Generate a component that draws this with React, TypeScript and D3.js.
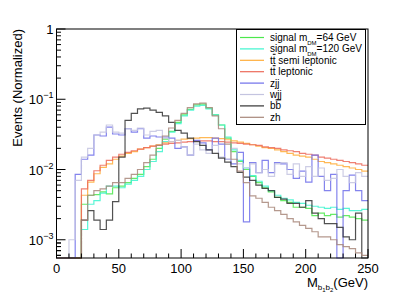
import React, { useEffect, useRef } from "react";
import * as d3 from "d3";

// 5 GeV bins, 0 -> 250
const binEdges = d3.range(0, 255, 5);

const sig64 = [0, 0, 0, 0, 3.2e-3, 4.3e-3, 4.4e-3, 4.8e-3, 4.5e-3, 5.5e-3, 5.8e-3, 6.5e-3, 7.5e-3, 8.5e-3, 1.1e-2, 1.4e-2, 2.0e-2, 2.7e-2, 3.5e-2, 4.7e-2, 6.0e-2, 7.2e-2, 8.3e-2, 8.5e-2, 7.5e-2, 6.0e-2, 4.3e-2, 2.8e-2, 1.8e-2, 1.3e-2, 1.0e-2, 8e-3, 6.5e-3, 5.5e-3, 4.8e-3, 4.0e-3, 3.6e-3, 3.4e-3, 2.9e-3, 2.9e-3, 2.8e-3, 2.2e-3, 2.4e-3, 2.2e-3, 2.3e-3, 2.1e-3, 2.2e-3, 2.1e-3, 2.0e-3, 1.9e-3];
const sig120 = [0, 0, 0, 0, 1.4e-3, 3.2e-3, 3.6e-3, 4.6e-3, 5.8e-3, 5.8e-3, 5.5e-3, 6.2e-3, 7.0e-3, 8.0e-3, 1.0e-2, 1.3e-2, 1.8e-2, 2.5e-2, 3.4e-2, 4.5e-2, 5.8e-2, 7.0e-2, 8.0e-2, 8.2e-2, 7.3e-2, 6.0e-2, 4.3e-2, 2.9e-2, 1.9e-2, 1.35e-2, 1.05e-2, 8.2e-3, 6.8e-3, 5.8e-3, 5.0e-3, 4.3e-3, 3.9e-3, 3.7e-3, 3.4e-3, 3.3e-3, 3.1e-3, 3.0e-3, 2.9e-3, 2.8e-3, 2.9e-3, 2.7e-3, 2.8e-3, 2.6e-3, 2.6e-3, 2.7e-3];
const ttSemi = [0, 0, 0, 0, 4.3e-3, 6.6e-3, 8.7e-3, 1.07e-2, 1.2e-2, 1.4e-2, 1.55e-2, 1.7e-2, 1.8e-2, 1.95e-2, 2.05e-2, 2.15e-2, 2.25e-2, 2.4e-2, 2.5e-2, 2.6e-2, 2.7e-2, 2.75e-2, 2.8e-2, 2.85e-2, 2.85e-2, 2.8e-2, 2.75e-2, 2.65e-2, 2.55e-2, 2.45e-2, 2.35e-2, 2.25e-2, 2.15e-2, 2.05e-2, 2.0e-2, 1.9e-2, 1.8e-2, 1.7e-2, 1.6e-2, 1.55e-2, 1.5e-2, 1.4e-2, 1.3e-2, 1.25e-2, 1.2e-2, 1.15e-2, 1.1e-2, 1.05e-2, 1.0e-2, 9.5e-3];
const ttLep = [0, 0, 0, 0, 5.3e-3, 7e-3, 9.6e-3, 1.15e-2, 1.35e-2, 1.5e-2, 1.65e-2, 1.75e-2, 1.85e-2, 1.95e-2, 2.05e-2, 2.15e-2, 2.2e-2, 2.3e-2, 2.35e-2, 2.4e-2, 2.45e-2, 2.5e-2, 2.55e-2, 2.55e-2, 2.55e-2, 2.5e-2, 2.5e-2, 2.45e-2, 2.4e-2, 2.35e-2, 2.3e-2, 2.25e-2, 2.2e-2, 2.1e-2, 2.05e-2, 2.0e-2, 1.9e-2, 1.85e-2, 1.8e-2, 1.7e-2, 1.65e-2, 1.6e-2, 1.5e-2, 1.45e-2, 1.4e-2, 1.35e-2, 1.3e-2, 1.25e-2, 1.2e-2, 1.15e-2];
const zjj = [0, 0, 0, 8.5e-3, 1.4e-2, 1.6e-2, 3.1e-2, 3e-2, 4.0e-2, 3.2e-2, 3.1e-2, 3.8e-2, 3.4e-2, 3.8e-2, 2.8e-2, 3e-2, 2.9e-2, 2.9e-2, 2.8e-2, 2.0e-2, 2.1e-2, 1.6e-2, 2.6e-2, 2.4e-2, 1.9e-2, 2.8e-2, 2.3e-2, 1.4e-2, 1.2e-2, 1.75e-2, 1.8e-3, 1.25e-2, 9e-3, 1.35e-2, 9e-3, 1.25e-2, 1.2e-2, 1.0e-2, 7.5e-3, 9.5e-3, 6.6e-3, 1.6e-2, 8e-3, 5e-3, 8.5e-3, 0, 5e-3, 8.3e-3, 5e-3, 3.6e-3];
const wjj = [0, 0, 1e-3, 7e-3, 1.5e-2, 2e-2, 3.1e-2, 3.4e-2, 4.3e-2, 3.4e-2, 3.3e-2, 3.8e-2, 3.6e-2, 3.9e-2, 3.1e-2, 3.5e-2, 3.6e-2, 2.8e-2, 2.5e-2, 2.6e-2, 2.1e-2, 1.6e-2, 2.3e-2, 1.9e-2, 1.7e-2, 2.2e-2, 1.5e-2, 1.4e-2, 2.0e-2, 1.2e-2, 1.05e-2, 1.2e-2, 9e-3, 1.0e-2, 8e-3, 1.2e-2, 1.25e-2, 8.5e-3, 1.2e-2, 8e-3, 1.1e-2, 8e-3, 1.05e-2, 7e-3, 7.5e-3, 1.0e-2, 8e-3, 6.5e-3, 9e-3, 8e-3];
const bbbar = [0, 0, 0, 0, 1.9e-3, 2.6e-3, 1.9e-3, 1.4e-3, 1.9e-3, 3.5e-3, 1.5e-2, 5.0e-2, 6.3e-2, 7.3e-2, 7.5e-2, 7.0e-2, 6.5e-2, 5.8e-2, 4.7e-2, 3.6e-2, 3.3e-2, 2.8e-2, 2.5e-2, 2.2e-2, 1.9e-2, 1.7e-2, 1.45e-2, 1.27e-2, 1.1e-2, 9.1e-3, 7.8e-3, 7.0e-3, 6.0e-3, 5.4e-3, 5.0e-3, 4.0e-3, 3.8e-3, 3.3e-3, 3.3e-3, 2.9e-3, 3.6e-3, 2.4e-3, 2.0e-3, 1.7e-3, 1.7e-3, 1.5e-3, 1.1e-3, 1.0e-3, 2.4e-3, 0];
const zh = [0, 0, 0, 0, 1.9e-3, 4.3e-3, 5.0e-3, 5.3e-3, 5.8e-3, 6.5e-3, 6.5e-3, 7.5e-3, 8.5e-3, 1.0e-2, 1.25e-2, 1.6e-2, 2.2e-2, 3.0e-2, 3.9e-2, 5.0e-2, 6.3e-2, 7.6e-2, 8.6e-2, 8.8e-2, 7.6e-2, 5.8e-2, 3.8e-2, 2.3e-2, 1.4e-2, 9.5e-3, 6.5e-3, 4.2e-3, 3.9e-3, 3.4e-3, 2.9e-3, 2.6e-3, 2.3e-3, 2.0e-3, 1.8e-3, 1.6e-3, 1.45e-3, 1.3e-3, 1.1e-3, 1.1e-3, 1.0e-3, 8.5e-4, 8.0e-4, 7.5e-4, 6.5e-4, 6.0e-4];

const series = [
  { name: "sig64", values: sig64, color: "#4ce84c" },
  { name: "sig120", values: sig120, color: "#3cf5cf" },
  { name: "ttSemi", values: ttSemi, color: "#ffad3a" },
  { name: "ttLep", values: ttLep, color: "#ec6a5a" },
  { name: "zjj", values: zjj, color: "#6e6eea" },
  { name: "wjj", values: wjj, color: "#c4c4e0" },
  { name: "bb", values: bbbar, color: "#333333" },
  { name: "zh", values: zh, color: "#a8877a" },
];

// legend text pieces; "bar" is a letter drawn with an overline
const legendLabels = [
  { pre: "signal m", sub: "DM", post: "=64 GeV" },
  { pre: "signal m", sub: "DM", post: "=120 GeV" },
  { pre: "t", bar: "t", post: " semi leptonic" },
  { pre: "t", bar: "t", post: " leptonic" },
  { pre: "zjj" },
  { pre: "wjj" },
  { pre: "b", bar: "b", post: "" },
  { pre: "zh" },
];

const xTicks = [0, 50, 100, 150, 200, 250];
const yTickExps = [0, -1, -2, -3];

const App = () => {
  const chartRef = useRef<SVGSVGElement | null>(null);

  useEffect(() => {
    const width = 409;
    const height = 300;
    const margin = { top: 29, right: 41, bottom: 42, left: 56.5 };
    const font = "'Liberation Sans', Arial, sans-serif";
    const yMin = 5.5e-4;

    const svg = d3.select(chartRef.current);
    svg.selectAll("*").remove();

    const x = d3
      .scaleLinear()
      .domain([0, 250])
      .range([margin.left, width - margin.right]);
    const y = d3
      .scaleLog()
      .domain([yMin, 1])
      .range([height - margin.bottom, margin.top]);
    const yBottom = height - margin.bottom;

    svg.append("rect").attr("width", width).attr("height", height).attr("fill", "white");

    // Histograms, drawn as steps
    const plot = svg.append("g");
    series.forEach((s) => {
      const path = d3.path();
      s.values.forEach((v, i) => {
        const yy = v > yMin ? y(Math.min(v, 1)) : yBottom;
        if (i === 0) path.moveTo(x(binEdges[0]), yy);
        else path.lineTo(x(binEdges[i]), yy);
        path.lineTo(x(binEdges[i + 1]), yy);
      });
      plot
        .append("path")
        .attr("d", path.toString())
        .attr("fill", "none")
        .attr("stroke", s.color)
        .attr("stroke-width", 1.2)
        .attr("stroke-opacity", 0.85);
    });

    // Frame
    svg
      .append("rect")
      .attr("x", x(0))
      .attr("y", margin.top)
      .attr("width", x(250) - x(0))
      .attr("height", yBottom - margin.top)
      .attr("fill", "none")
      .attr("stroke", "black")
      .attr("stroke-width", 1);

    // X ticks
    const axis = svg.append("g").attr("stroke", "black").attr("stroke-width", 1);
    d3.range(0, 251, 10).forEach((t) => {
      const major = t % 50 === 0;
      axis
        .append("line")
        .attr("x1", x(t))
        .attr("x2", x(t))
        .attr("y1", yBottom)
        .attr("y2", yBottom - (major ? 9 : 4.5));
    });
    xTicks.forEach((t) => {
      svg
        .append("text")
        .attr("x", x(t))
        .attr("y", yBottom + 15)
        .attr("text-anchor", "middle")
        .style("font-family", font)
        .style("font-size", "13px")
        .text(t);
    });

    // Y ticks (log)
    yTickExps.forEach((e) => {
      const base = Math.pow(10, e);
      axis
        .append("line")
        .attr("x1", x(0))
        .attr("x2", x(0) + 9)
        .attr("y1", y(base))
        .attr("y2", y(base));
      d3.range(2, 10).forEach((m) => {
        const v = (base / 10) * m;
        if (v < yMin) return;
        axis
          .append("line")
          .attr("x1", x(0))
          .attr("x2", x(0) + 4.5)
          .attr("y1", y(v))
          .attr("y2", y(v));
      });
      const label = svg
        .append("text")
        .attr("x", x(0) - 3)
        .attr("y", y(base) + 5)
        .attr("text-anchor", "end")
        .style("font-family", font)
        .style("font-size", "13px");
      if (e === 0) {
        label.text("1");
      } else {
        label.append("tspan").text("10");
        label
          .append("tspan")
          .attr("dy", -6)
          .style("font-size", "9px")
          .text(`\u2212${-e}`);
      }
    });
    d3.range(6, 10).forEach((m) => {
      axis
        .append("line")
        .attr("x1", x(0))
        .attr("x2", x(0) + 4.5)
        .attr("y1", y(1e-4 * m))
        .attr("y2", y(1e-4 * m));
    });

    // Axis titles
    svg
      .append("text")
      .attr("transform", `translate(22,${margin.top}) rotate(-90)`)
      .attr("text-anchor", "end")
      .style("font-family", font)
      .style("font-size", "13px")
      .text("Events (Normalized)");

    const xt = svg
      .append("text")
      .attr("x", x(250))
      .attr("y", 287)
      .attr("text-anchor", "end")
      .style("font-family", font)
      .style("font-size", "13px");
    xt.append("tspan").text("M");
    xt.append("tspan").attr("dy", 3).style("font-size", "8px").text("b");
    xt.append("tspan").attr("dy", 2).style("font-size", "6px").text("1");
    xt.append("tspan").attr("dy", -2).style("font-size", "8px").text("b");
    xt.append("tspan").attr("dy", 2).style("font-size", "6px").text("2");
    xt.append("tspan").attr("dy", -5).text("(GeV)");

    // Legend
    const lg = svg.append("g");
    lg.append("rect")
      .attr("x", 236.5)
      .attr("y", 29.5)
      .attr("width", 129)
      .attr("height", 95)
      .attr("fill", "white")
      .attr("stroke", "black")
      .attr("stroke-width", 1);
    series.forEach((s, i) => {
      const cy = 37.5 + i * 11.4;
      lg.append("line")
        .attr("x1", 240)
        .attr("x2", 264)
        .attr("y1", cy)
        .attr("y2", cy)
        .attr("stroke", s.color)
        .attr("stroke-width", 1.2);
      const t = lg
        .append("text")
        .attr("x", 270)
        .attr("y", cy + 3.5)
        .style("font-family", font)
        .style("font-size", "10px");
      const lab = legendLabels[i];
      t.append("tspan").text(lab.pre);
      if (lab.sub) {
        t.append("tspan").attr("dy", 3.5).style("font-size", "6px").text(lab.sub);
        t.append("tspan").attr("dy", -3.5).text(lab.post);
      } else if (lab.bar) {
        t.append("tspan").style("text-decoration", "overline").text(lab.bar);
        t.append("tspan").text(lab.post);
      }
    });
  }, []);

  return (
    <svg
      ref={chartRef}
      width={409}
      height={300}
      style={{ position: "absolute", left: 0, top: 0, display: "block" }}
    />
  );
};

export default App;
